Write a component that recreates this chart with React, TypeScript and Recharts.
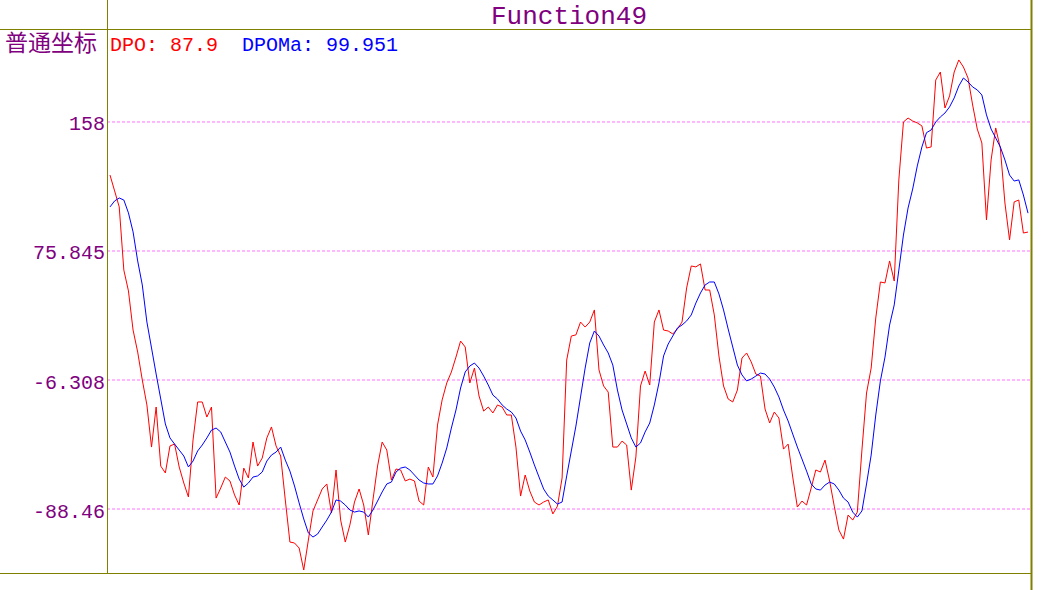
import { LineChart, Line, XAxis, YAxis, ReferenceLine } from "recharts";

// DPO values, one per bar
const dpo = [
  124.2, 114.1, 103.9, 63.7, 50.4, 25.5, 11.5, -6.3, -22.2, -49.0,
  -23.5, -61.1, -65.5, -48.3, -47.1, -61.7, -71.9, -80.8, -44.5, -20.3,
  -20.3, -29.9, -23.5, -81.5, -75.1, -68.1, -70.6, -79.5, -85.9, -62.4,
  -68.7, -45.8, -61.1, -56.0, -43.2, -36.2, -48.3, -54.7, -82.7, -109.5,
  -110.1, -113.3, -127.3, -108.2, -89.7, -82.7, -75.7, -72.5, -91.0, -63.6,
  -95.5, -109.5, -98.6, -84.0, -75.7, -85.9, -105.0, -82.7, -61.1, -45.8,
  -50.9, -70.0, -63.0, -63.6, -70.6, -69.4, -70.6, -83.4, -85.9, -61.7,
  -68.1, -35.0, -19.0, -8.2, -1.2, 8.3, 18.5, 14.7, -8.2, 1.3,
  -16.5, -26.1, -23.5, -27.3, -22.2, -23.5, -28.6, -28.6, -49.0, -80.2,
  -66.8, -77.0, -84.0, -85.9, -84.0, -82.7, -91.6, -86.6, -68.7, 6.4,
  21.7, 22.4, 30.6, 27.4, 30.6, 38.3, 0.1, -10.1, -14.0, -49.0,
  -49.0, -45.2, -47.7, -76.4, -55.3, -10.1, -0.6, -9.5, 30.6, 38.3,
  25.5, 24.9, 23.0, 26.2, 30.6, 52.3, 66.3, 65.7, 67.6, 51.0,
  51.0, 35.1, 9.0, -10.1, -18.4, -20.3, -12.7, 7.7, 10.9, 5.2,
  -2.5, -3.8, -24.8, -33.7, -26.7, -30.5, -50.3, -47.1, -68.1, -87.2,
  -83.4, -85.9, -75.1, -63.6, -64.9, -57.3, -70.6, -86.6, -101.8, -107.6,
  -92.3, -95.5, -90.4, -50.9, -14.6, 1.3, 33.2, 56.1, 55.5, 69.5,
  56.7, 121.1, 158.0, 160.5, 158.6, 157.4, 155.5, 141.4, 142.1, 184.7,
  189.8, 166.9, 174.6, 189.8, 197.5, 193.0, 186.0, 168.8, 153.5, 144.6,
  95.6, 133.8, 154.2, 141.4, 106.4, 82.9, 107.1, 108.3, 87.3, 87.9,
];

// DPOMa values
const dpoMa = [
  103.9, 107.7, 109.6, 108.3, 100.1, 88.0, 69.5, 54.2, 30.6, 14.1,
  -2.5, -18.4, -34.3, -43.2, -47.1, -50.9, -54.7, -61.7, -57.9, -51.5,
  -47.7, -43.2, -38.2, -36.9, -39.4, -45.8, -52.2, -61.1, -69.4, -74.5,
  -71.9, -68.1, -67.4, -64.9, -57.9, -54.1, -52.2, -49.0, -57.3, -64.3,
  -73.8, -84.6, -94.8, -103.7, -106.3, -104.4, -99.9, -95.5, -90.4, -82.7,
  -83.4, -85.9, -89.1, -90.4, -89.7, -90.4, -93.6, -89.1, -83.4, -77.6,
  -72.5, -71.3, -64.9, -62.4, -61.7, -63.6, -66.8, -70.0, -71.9, -72.5,
  -72.5, -67.4, -59.2, -49.6, -36.9, -25.4, -11.4, -1.2, 2.6, 4.5,
  1.3, -3.8, -9.5, -15.9, -18.4, -22.2, -24.8, -26.7, -30.5, -38.8,
  -44.5, -52.2, -60.4, -68.1, -75.7, -80.2, -82.7, -85.3, -84.0, -67.4,
  -51.5, -35.6, -17.1, 1.3, 17.3, 24.9, 21.7, 16.0, 10.9, 3.2,
  -12.7, -25.4, -34.3, -43.2, -49.0, -46.4, -39.4, -33.7, -22.2, -8.2,
  9.0, 16.6, 21.7, 26.8, 28.7, 31.3, 35.1, 42.7, 49.1, 54.2,
  56.1, 56.1, 48.5, 38.3, 26.2, 14.7, 3.2, -3.1, -6.9, -5.7,
  -3.8, -1.9, -2.5, -5.7, -10.8, -17.1, -25.4, -32.4, -40.7, -49.0,
  -56.6, -64.3, -72.5, -75.7, -76.4, -73.2, -71.3, -72.5, -76.4, -81.5,
  -84.0, -90.4, -93.6, -89.7, -72.5, -54.1, -28.6, -6.9, 8.3, 28.7,
  41.5, 63.7, 86.0, 103.2, 115.3, 130.0, 142.1, 151.2, 152.9, 158.0,
  161.2, 163.7, 167.6, 173.3, 180.9, 186.0, 183.5, 180.3, 178.4, 175.2,
  162.5, 153.5, 147.8, 142.1, 133.8, 124.2, 120.4, 121.1, 111.5, 99.951,
];

const yTicks = [-88.46, -6.308, 75.845, 158];
const yTickLabels = ["-88.46", "-6.308", "75.845", "158"];

const data = dpo.map((v, i) => ({ i, dpo: v, dpoMa: dpoMa[i] }));

const OLIVE = "#808000";
const PURPLE = "#800080";
const MONO = "'Liberation Mono', monospace";

const YTick = (props: any) => {
  const { y, payload } = props;
  const idx = yTicks.indexOf(payload.value);
  return (
    <text x={105} y={y + 8.5} textAnchor="end" fill={PURPLE} fontSize={20} fontFamily={MONO}>
      {idx >= 0 ? yTickLabels[idx] : payload.value}
    </text>
  );
};

export default function App() {
  return (
    <div style={{ position: "absolute", left: 0, top: 0, width: 1044, height: 590, background: "#fff" }}>
      <LineChart width={1044} height={590} data={data} margin={{ top: 29, right: 13, bottom: 17, left: 0 }}>
        <XAxis dataKey="i" type="number" domain={[-0.65, 199.65]} hide />
        <YAxis
          width={107}
          type="number"
          domain={[-129.2, 217.2]}
          ticks={yTicks}
          tick={<YTick />}
          tickLine={false}
          axisLine={false}
        />
        {yTicks.map((t) => (
          <ReferenceLine key={t} y={t} stroke="#ff70ff" strokeDasharray="3 2" />
        ))}
        <Line dataKey="dpo" stroke="#ff0000" strokeWidth={1} dot={false} isAnimationActive={false} />
        <Line dataKey="dpoMa" stroke="#0000ff" strokeWidth={1} dot={false} isAnimationActive={false} />
      </LineChart>
      <svg width={1044} height={590} style={{ position: "absolute", left: 0, top: 0, pointerEvents: "none" }}>
        <line x1={0} y1={29.5} x2={1031} y2={29.5} stroke={OLIVE} />
        <line x1={107.5} y1={0} x2={107.5} y2={573} stroke={OLIVE} />
        <line x1={0} y1={573.5} x2={1031} y2={573.5} stroke={OLIVE} />
        <line x1={1031.5} y1={0} x2={1031.5} y2={590} stroke={OLIVE} strokeWidth={2} />
        <text x={569} y={24} textAnchor="middle" fill={PURPLE} fontSize={26} fontFamily={MONO}>
          Function49
        </text>
        <text x={5} y={51} fill={PURPLE} fontSize={23} fontFamily="'Noto Sans CJK SC', sans-serif">
          普通坐标
        </text>
        <text x={110} y={51} fill="#ff0000" fontSize={20} fontFamily={MONO}>
          DPO: 87.9
        </text>
        <text x={242} y={51} fill="#0000ff" fontSize={20} fontFamily={MONO}>
          DPOMa: 99.951
        </text>
      </svg>
    </div>
  );
}
